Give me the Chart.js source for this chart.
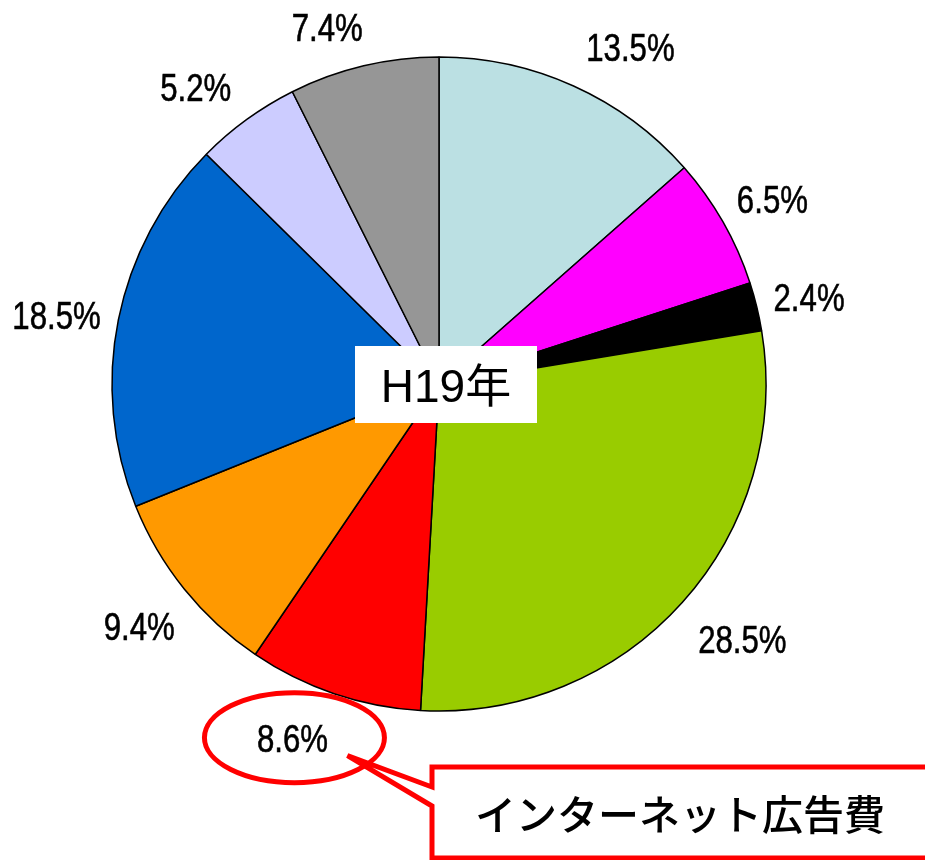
<!DOCTYPE html>
<html>
<head>
<meta charset="utf-8">
<script src="https://cdn.jsdelivr.net/npm/chart.js@4.4.0/dist/chart.umd.min.js"></script>
<style>
  html, body { margin: 0; padding: 0; background: #fff; }
  canvas { display: block; }
</style>
</head>
<body>
<canvas id="chart" width="925" height="860"></canvas>
<script>
// share of each medium, H19 (clockwise from 12 o'clock)
const categories = ['', '', '', '', 'インターネット広告費', '', '', '', ''];
const shares = [13.5, 6.5, 2.4, 28.5, 8.6, 9.4, 18.5, 5.2, 7.4];
const shareLabels = ['13.5%', '6.5%', '2.4%', '28.5%', '8.6%', '9.4%', '18.5%', '5.2%', '7.4%'];
const sliceColors = ['#BBE0E3', '#FF00FF', '#000000', '#99CC00', '#FF0000', '#FF9900', '#0066CC', '#CCCCFF', '#969696'];
const centerTitle = 'H19年';
const calloutText = 'インターネット広告費';
const highlightIndex = 4;

const LABEL_FONT = '39px "Liberation Sans", Arial, sans-serif';

// draws the % labels, the centre title and the red callout
const annotations = {
  id: 'annotations',
  afterDatasetsDraw(chart, args, opts) {
    const { ctx } = chart;
    const arcs = chart.getDatasetMeta(0).data;
    const labelPos = [];

    arcs.forEach((arc, i) => {
      const { x, y, startAngle, endAngle, outerRadius } = arc.getProps(['x', 'y', 'startAngle', 'endAngle', 'outerRadius'], true);
      const mid = (startAngle + endAngle) / 2;
      const r = outerRadius + opts.labelGap;
      const nudge = opts.nudges[i] || [0, 0];
      const lx = x + Math.cos(mid) * r + nudge[0];
      const ly = y + Math.sin(mid) * r + nudge[1];
      labelPos.push([lx, ly]);

      ctx.save();
      ctx.font = LABEL_FONT;
      ctx.fillStyle = '#000';
      ctx.strokeStyle = '#000';
      ctx.lineWidth = 0.6;
      ctx.textAlign = 'center';
      ctx.textBaseline = 'alphabetic';
      ctx.translate(lx, ly + 14);
      ctx.scale(0.8, 1);
      ctx.fillText(shareLabels[i], 0, 0);
      ctx.strokeText(shareLabels[i], 0, 0);
      ctx.restore();
    });

    // centre title box
    const c = arcs[0];
    const bx = c.x + 7, by = c.y;
    ctx.save();
    ctx.fillStyle = '#fff';
    ctx.fillRect(bx - 91, by - 38, 182, 77);
    ctx.font = '46px "Liberation Sans", "Noto Sans CJK JP", sans-serif';
    ctx.fillStyle = '#000';
    ctx.textAlign = 'center';
    ctx.textBaseline = 'alphabetic';
    ctx.fillText(centerTitle, bx, by + 18);
    ctx.restore();

    // ellipse round the highlighted label
    const [ex, ey] = labelPos[highlightIndex];
    ctx.save();
    ctx.strokeStyle = '#FF0000';
    ctx.lineWidth = 5;
    ctx.beginPath();
    ctx.ellipse(ex + 2, ey, 90, 45, 0, 0, Math.PI * 2);
    ctx.stroke();

    // callout box with pointer
    const left = 432, top = 767, right = 945, bottom = 858;
    const tipX = ex + 55, tipY = ey + 18;
    ctx.beginPath();
    ctx.moveTo(left, top);
    ctx.lineTo(right, top);
    ctx.lineTo(right, bottom);
    ctx.lineTo(left, bottom);
    ctx.lineTo(left, 806);
    ctx.lineTo(tipX, tipY);
    ctx.lineTo(left, 787);
    ctx.closePath();
    ctx.fillStyle = '#fff';
    ctx.fill();
    ctx.lineJoin = 'miter';
    ctx.stroke();

    ctx.font = '500 41px "Noto Sans CJK JP", sans-serif';
    ctx.fillStyle = '#000';
    ctx.textAlign = 'center';
    ctx.textBaseline = 'middle';
    ctx.fillText(calloutText, 680, 814);
    ctx.restore();
  }
};

new Chart(document.getElementById('chart'), {
  type: 'pie',
  data: {
    labels: categories,
    datasets: [{
      data: shares,
      backgroundColor: sliceColors,
      borderColor: '#000',
      borderWidth: 1.5,
    }],
  },
  options: {
    responsive: false,
    animation: false,
    radius: 327,
    layout: { padding: { left: 100, right: 147, top: 45, bottom: 137 } },
    plugins: {
      legend: { display: false },
      tooltip: { enabled: false },
      annotations: {
        labelGap: 58,
        nudges: {
          0: [33, 14], 1: [-1, 6], 2: [-4, 4], 3: [17, -2], 4: [-23, -11],
          6: [-5, 7], 7: [-17, 14], 8: [-23, 18],
        },
      },
    },
  },
  plugins: [annotations],
});
</script>
</body>
</html>
